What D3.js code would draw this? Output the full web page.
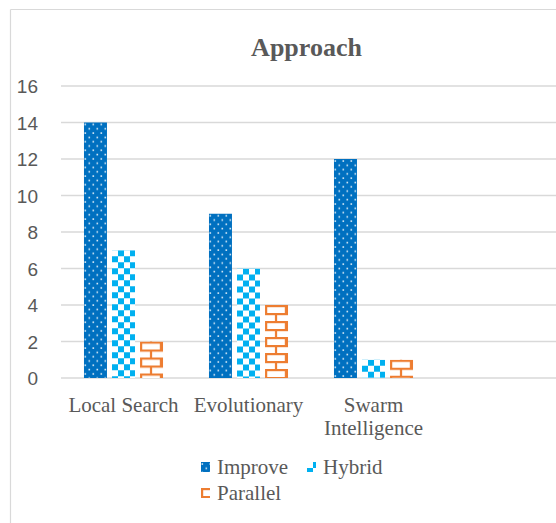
<!DOCTYPE html>
<html>
<head>
<meta charset="utf-8">
<script src="https://cdn.jsdelivr.net/npm/d3@7/dist/d3.min.js"></script>
<style>
  html, body { margin: 0; padding: 0; background: #ffffff; }
  svg { display: block; }
</style>
</head>
<body>
<svg id="chart" width="556" height="523"></svg>
<script>
// ---- data ----
const categories = ["Local Search", "Evolutionary", "Swarm Intelligence"];
const seriesNames = ["Improve", "Hybrid", "Parallel"];
const improveValues = [14, 9, 12];
const hybridValues = [7, 6, 1];
const parallelValues = [2, 4, 1];
const yTickValues = [0, 2, 4, 6, 8, 10, 12, 14, 16];
const titleText = "Approach";

// ---- layout ----
const W = 556, H = 523;
const plotLeft = 61, plotRight = 561, plotTop = 86, plotBottom = 378;
const textColor = "#595959", gridColor = "#D9D9D9";
const colors = { Improve: "#0070C0", Hybrid: "#00B0F0", Parallel: "#ED7D31" };

const svg = d3.select("#chart");
const defs = svg.append("defs");

// border (chart area extends beyond the window on right/bottom)
svg.append("line").attr("x1", 10.5).attr("x2", W).attr("y1", 9.5).attr("y2", 9.5)
  .attr("stroke", gridColor).attr("stroke-width", 1.2);
svg.append("line").attr("x1", 10.5).attr("x2", 10.5).attr("y1", 9.5).attr("y2", H)
  .attr("stroke", gridColor).attr("stroke-width", 1.2);

// scales
const xDomain = categories.concat(["__empty__"]);
const x0 = d3.scaleBand().domain(xDomain).range([plotLeft, plotRight]).padding(0);
const x1 = d3.scaleBand().domain(seriesNames).range([0, x0.bandwidth()])
  .paddingInner(0.18).paddingOuter(0.82);
const y = d3.scaleLinear().domain([0, 16]).range([plotBottom, plotTop]);

// gridlines
svg.append("g").selectAll("line").data(yTickValues).join("line")
  .attr("x1", plotLeft).attr("x2", W)
  .attr("y1", d => y(d)).attr("y2", d => y(d))
  .attr("stroke", gridColor).attr("stroke-width", 1.5);

// y axis labels via d3 axis
const yAxis = d3.axisLeft(y).tickValues(yTickValues).tickSize(0).tickPadding(0).tickFormat(d3.format("d"));
const yg = svg.append("g").attr("transform", "translate(38,0)").call(yAxis);
yg.select(".domain").remove();
yg.selectAll("text")
  .attr("font-family", "'Liberation Sans', Arial, sans-serif")
  .attr("font-size", 19).attr("fill", textColor).attr("dy", "0.36em");

// patterns
function makePattern(id, name, ox, oy) {
  if (name === "Improve") {
    const p = defs.append("pattern").attr("id", id).attr("patternUnits", "userSpaceOnUse")
      .attr("x", ox).attr("y", oy).attr("width", 8).attr("height", 8.6);
    p.append("rect").attr("width", 8).attr("height", 8.6).attr("fill", colors.Improve);
    p.append("rect").attr("x", 0.5).attr("y", 1.2).attr("width", 1.6).attr("height", 1.6).attr("fill", "#ffffff").attr("opacity", 0.85);
    p.append("rect").attr("x", 4.5).attr("y", 5.5).attr("width", 1.6).attr("height", 1.6).attr("fill", "#ffffff").attr("opacity", 0.85);
  } else if (name === "Hybrid") {
    const p = defs.append("pattern").attr("id", id).attr("patternUnits", "userSpaceOnUse")
      .attr("x", ox).attr("y", oy).attr("width", 12).attr("height", 12);
    p.append("rect").attr("width", 12).attr("height", 12).attr("fill", colors.Hybrid);
    p.append("rect").attr("x", 0).attr("y", 0).attr("width", 6).attr("height", 6).attr("fill", "#ffffff");
    p.append("rect").attr("x", 6).attr("y", 6).attr("width", 6).attr("height", 6).attr("fill", "#ffffff");
  } else {
    const pw = 22, ph = 16;
    const p = defs.append("pattern").attr("id", id).attr("patternUnits", "userSpaceOnUse")
      .attr("x", ox).attr("y", oy).attr("width", pw).attr("height", ph);
    p.append("rect").attr("width", pw).attr("height", ph).attr("fill", "#ffffff");
    const c = colors.Parallel;
    p.append("rect").attr("x", 0).attr("y", 0).attr("width", pw).attr("height", 2.2).attr("fill", c);
    p.append("rect").attr("x", 0).attr("y", 8).attr("width", pw).attr("height", 2.2).attr("fill", c);
    p.append("rect").attr("x", 0).attr("y", 0).attr("width", 2.2).attr("height", 8).attr("fill", c);
    p.append("rect").attr("x", pw - 2.2).attr("y", 0).attr("width", 2.2).attr("height", 8).attr("fill", c);
    p.append("rect").attr("x", pw / 2 - 1.1).attr("y", 8).attr("width", 2.2).attr("height", 8).attr("fill", c);
    p.append("rect").attr("x", 0).attr("y", 0).attr("width", pw).attr("height", ph)
      .attr("fill", "none").attr("stroke", "none");
  }
}

const valuesBySeries = { Improve: improveValues, Hybrid: hybridValues, Parallel: parallelValues };
const barData = [];
categories.forEach((cat, i) => {
  seriesNames.forEach(s => barData.push({ cat, series: s, value: valuesBySeries[s][i], i }));
});

barData.forEach((d, k) => {
  d.id = "pat" + k;
  const bx = x0(d.cat) + x1(d.series);
  makePattern(d.id, d.series, bx, y(d.value));
});

svg.append("g").selectAll("rect").data(barData).join("rect")
  .attr("x", d => x0(d.cat) + x1(d.series))
  .attr("y", d => y(d.value))
  .attr("width", x1.bandwidth())
  .attr("height", d => y(0) - y(d.value))
  .attr("fill", d => `url(#${d.id})`);

// category labels
const catLines = { "Local Search": ["Local Search"], "Evolutionary": ["Evolutionary"], "Swarm Intelligence": ["Swarm", "Intelligence"] };
const cg = svg.append("g");
categories.forEach(cat => {
  const t = cg.append("text")
    .attr("x", x0(cat) + x0.bandwidth() / 2)
    .attr("y", 412)
    .attr("text-anchor", "middle")
    .attr("font-family", "'Liberation Serif', 'Times New Roman', serif")
    .attr("font-size", 21).attr("fill", textColor);
  catLines[cat].forEach((ln, j) => {
    t.append("tspan").attr("x", x0(cat) + x0.bandwidth() / 2).attr("dy", j === 0 ? 0 : 23).text(ln);
  });
});

// title
svg.append("text").attr("x", 306.5).attr("y", 56).attr("text-anchor", "middle")
  .attr("font-family", "'Liberation Serif', 'Times New Roman', serif")
  .attr("font-weight", "bold").attr("font-size", 26).attr("fill", textColor)
  .text(titleText);

// legend
const legendPos = { Improve: [201, 462], Hybrid: [307, 462], Parallel: [201, 488] };
const lg = svg.append("g");
seriesNames.forEach(s => {
  const [lx, ly] = legendPos[s];
  const pid = "leg" + s;
  makePattern(pid, s, lx, ly);
  lg.append("rect").attr("x", lx).attr("y", ly).attr("width", 9).attr("height", 10)
    .attr("fill", `url(#${pid})`);
  lg.append("text").attr("x", lx + 16).attr("y", ly + 12)
    .attr("font-family", "'Liberation Serif', 'Times New Roman', serif")
    .attr("font-size", 21).attr("fill", textColor).text(s);
});
</script>
</body>
</html>
